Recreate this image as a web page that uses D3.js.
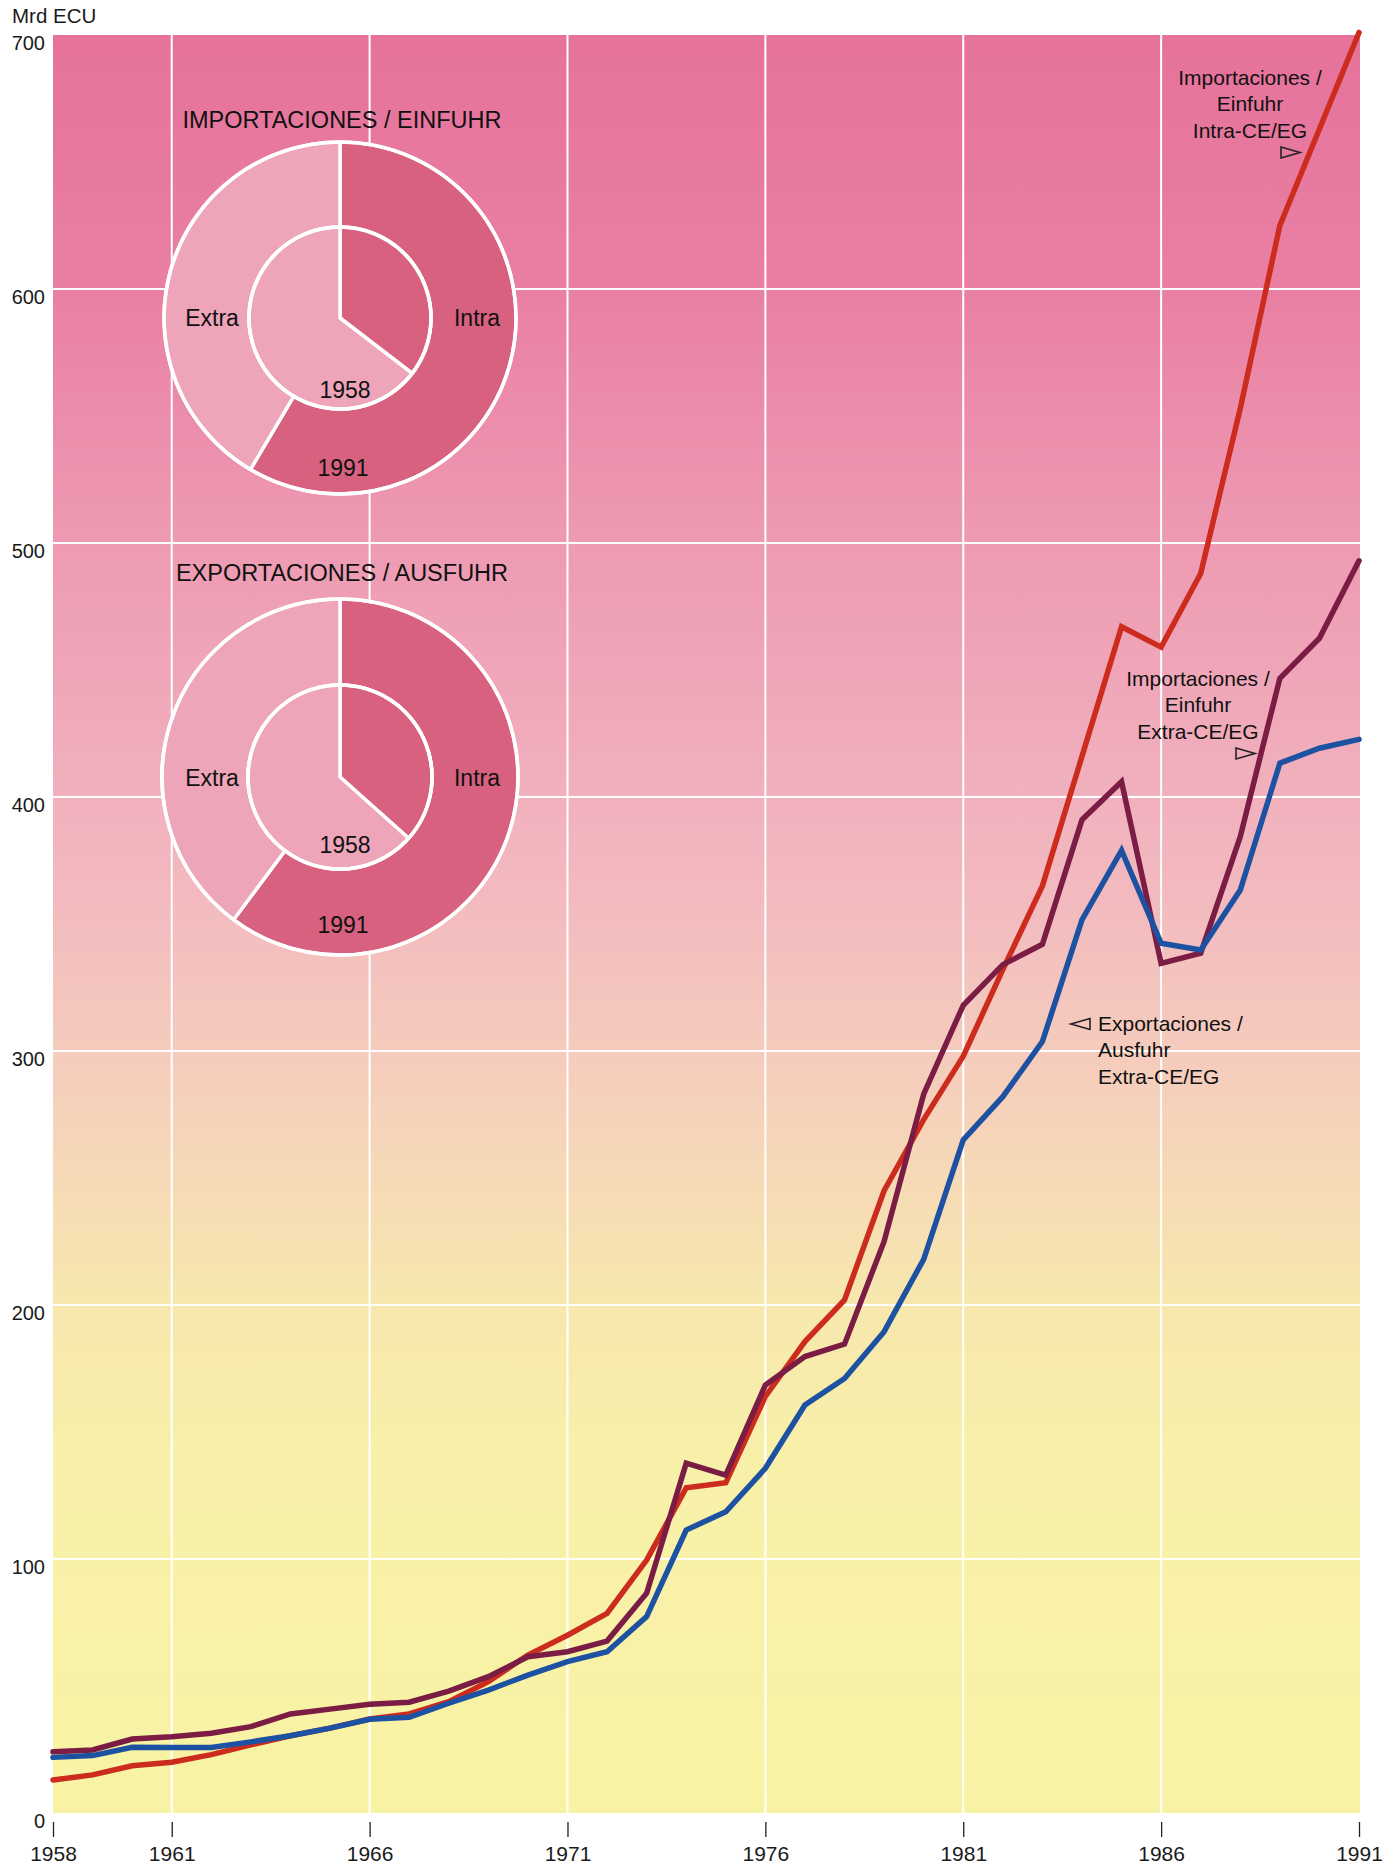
<!DOCTYPE html>
<html>
<head>
<meta charset="utf-8">
<script src="https://cdn.jsdelivr.net/npm/d3@7"></script>
<style>
  html, body { margin: 0; padding: 0; background: #ffffff; }
  svg { display: block; font-family: "Liberation Sans", Arial, Helvetica, sans-serif; }
</style>
</head>
<body>
<svg id="chart" width="1396" height="1868"></svg>
<script>
// ---------- DATA ----------
const years = d3.range(1958, 1992);
const xTickYears = [1958, 1961, 1966, 1971, 1976, 1981, 1986, 1991];
const xGridYears = [1961, 1966, 1971, 1976, 1981, 1986];
const yTicks = [0, 100, 200, 300, 400, 500, 600, 700];
const yGrid = [100, 200, 300, 400, 500, 600];

// Importaciones / Einfuhr Intra-CE/EG (Mrd ECU)
const importsIntra = [13, 15, 18.6, 20, 23, 26.8, 30.4, 33.4, 37, 39, 43.8, 51.7, 62.2, 70, 78.6, 99.6,
  128, 130, 164, 185.6, 202, 245, 273, 298, 332, 365, 416, 467, 459, 488, 553, 625, 663, 701];
// Importaciones / Einfuhr Extra-CE/EG
const importsExtra = [24.1, 24.8, 29.1, 30, 31.4, 34, 39, 40.9, 42.8, 43.6, 48, 53.7, 61.5, 63.5, 67.7, 86.5,
  137.7, 133, 168.5, 179.7, 184.6, 225, 283, 318, 334, 342, 391, 406, 334.5, 338.5, 384.4, 446.7, 462.5, 493];
// Exportaciones / Ausfuhr Extra-CE/EG
const exportsExtra = [21.9, 22.6, 25.9, 25.8, 25.8, 28, 30.4, 33.4, 36.9, 37.7, 43.2, 48.4, 54.3, 59.6, 63.5, 77.3,
  111.4, 118.6, 135.7, 160.6, 171.1, 189.5, 218, 265, 282, 303.7, 351.6, 379, 342.4, 339.8, 363.4, 413.3, 419.2, 422.7];

// Pie shares (%) : [Intra, Extra]
const pieCategories = ["Intra", "Extra"];
const imp1958 = [35.4, 64.6];
const imp1991 = [58.5, 41.5];
const exp1958 = [36.6, 63.4];
const exp1991 = [60.2, 39.8];

const pieTitles = ["IMPORTACIONES / EINFUHR", "EXPORTACIONES / AUSFUHR"];
const yAxisTitle = "Mrd ECU";

// ---------- LAYOUT ----------
const svg = d3.select("#chart");
const pLeft = 53, pRight = 1359, pTop = 35, pBottom = 1813;

const x = d3.scaleLinear().domain([1958, 1991]).range([pLeft, pRight]);
const y = d3.scaleLinear().domain([0, 700]).range([pBottom, pTop]);

// background gradient
const defs = svg.append("defs");
const grad = defs.append("linearGradient").attr("id", "bg")
  .attr("x1", 0).attr("y1", 0).attr("x2", 0).attr("y2", 1);
[
  [0.00, "#e6729b"],
  [0.14, "#e97fa3"],
  [0.29, "#ee9bb3"],
  [0.43, "#f1b1bd"],
  [0.50, "#f3bdbf"],
  [0.57, "#f5cbbd"],
  [0.64, "#f6d9b7"],
  [0.71, "#f7e7ae"],
  [0.80, "#f8f0a9"],
  [1.00, "#f8f3a4"]
].forEach(([o, c]) => grad.append("stop").attr("offset", o).attr("stop-color", c));

svg.append("rect")
  .attr("x", pLeft).attr("y", pTop)
  .attr("width", pRight + 1 - pLeft).attr("height", pBottom - pTop)
  .attr("fill", "url(#bg)");

// grid
const grid = svg.append("g").attr("stroke", "#ffffff").attr("stroke-width", 2);
grid.selectAll("line.v").data(xGridYears).join("line")
  .attr("x1", d => x(d)).attr("x2", d => x(d))
  .attr("y1", pTop).attr("y2", pBottom);
grid.selectAll("line.h").data(yGrid).join("line")
  .attr("x1", pLeft).attr("x2", pRight + 1)
  .attr("y1", d => y(d)).attr("y2", d => y(d));

// axes
const xAxis = d3.axisBottom(x).tickValues(xTickYears).tickFormat(d3.format("d"))
  .tickSize(15).tickPadding(9);
const gx = svg.append("g").attr("transform", `translate(0,${pBottom + 9})`).call(xAxis);
gx.select(".domain").remove();
gx.selectAll(".tick line").attr("stroke", "#222").attr("stroke-width", 1.3);
gx.selectAll(".tick text").attr("fill", "#1a1a1a").style("font-size", "21px")
  .style("font-family", "'Liberation Sans', Arial, sans-serif");

const yAxis = d3.axisLeft(y).tickValues(yTicks).tickSize(0).tickPadding(8);
const gy = svg.append("g").attr("transform", `translate(${pLeft},0)`).call(yAxis);
gy.select(".domain").remove();
gy.selectAll(".tick text").attr("fill", "#1a1a1a").style("font-size", "20px").attr("dy", "0.74em")
  .style("font-family", "'Liberation Sans', Arial, sans-serif");

svg.append("text").attr("x", 12).attr("y", 23).attr("fill", "#1a1a1a")
  .style("font-size", "20.5px").text(yAxisTitle);

// ---------- PIES ----------
const intraColor = "#d7617e";
const extraColor = "#eea4b9";
const pieGen = d3.pie().sort(null).value(d => d);

function donut(cx, cy, rOut, rIn, inner, outer, title, titleY, labelsY) {
  const g = svg.append("g").attr("transform", `translate(${cx},${cy})`);
  const outerArc = d3.arc().innerRadius(rIn).outerRadius(rOut);
  const innerArc = d3.arc().innerRadius(0).outerRadius(rIn);
  g.selectAll("path.o").data(pieGen(outer)).join("path")
    .attr("d", outerArc)
    .attr("fill", (d, i) => i === 0 ? intraColor : extraColor)
    .attr("stroke", "#fff").attr("stroke-width", 3.5).attr("stroke-linejoin", "round");
  g.selectAll("path.i").data(pieGen(inner)).join("path")
    .attr("d", innerArc)
    .attr("fill", (d, i) => i === 0 ? intraColor : extraColor)
    .attr("stroke", "#fff").attr("stroke-width", 3.5).attr("stroke-linejoin", "round");
  g.append("circle").attr("r", rOut).attr("fill", "none").attr("stroke", "#fff").attr("stroke-width", 3.5);
  g.append("circle").attr("r", rIn).attr("fill", "none").attr("stroke", "#fff").attr("stroke-width", 3.5);

  svg.append("text").attr("x", cx + 2).attr("y", titleY).attr("text-anchor", "middle")
    .attr("fill", "#111").style("font-size", "23.5px").text(title);

  const lab = [
    [pieCategories[1], cx - 128, labelsY[0]],
    [pieCategories[0], cx + 137, labelsY[0]],
    ["1958", cx + 5, labelsY[1]],
    ["1991", cx + 3, labelsY[2]]
  ];
  svg.selectAll(null).data(lab).join("text")
    .attr("x", d => d[1]).attr("y", d => d[2]).attr("text-anchor", "middle")
    .attr("fill", "#111").style("font-size", "23px").text(d => d[0]);
}

donut(340, 318, 176, 91, imp1958, imp1991, pieTitles[0], 128, [326, 398, 476]);
donut(340, 777, 178, 92, exp1958, exp1991, pieTitles[1], 581, [786, 853, 933]);

// ---------- LINES ----------
const line = d3.line().x((d, i) => x(years[i])).y(d => y(d));
const series = [
  { data: importsIntra, color: "#cc2c1e" },
  { data: importsExtra, color: "#7a1c44" },
  { data: exportsExtra, color: "#1d52a3" }
];
svg.selectAll("path.series").data(series).join("path")
  .attr("class", "series")
  .attr("d", d => line(d.data))
  .attr("fill", "none")
  .attr("stroke", d => d.color)
  .attr("stroke-width", 5.5)
  .attr("stroke-linejoin", "miter")
  .attr("stroke-miterlimit", 3)
  .attr("stroke-linecap", "round");

// ---------- ANNOTATIONS ----------
function note(lines, ax, ay, anchor) {
  const t = svg.append("text").attr("fill", "#111").style("font-size", "21px").attr("text-anchor", anchor);
  lines.forEach((s, i) => t.append("tspan").attr("x", ax).attr("y", ay + i * 26.5).text(s));
}
note(["Importaciones /", "Einfuhr", "Intra-CE/EG"], 1250, 84.5, "middle");
note(["Importaciones /", "Einfuhr", "Extra-CE/EG"], 1198, 685.5, "middle");
note(["Exportaciones /", "Ausfuhr", "Extra-CE/EG"], 1098, 1030.5, "start");

const tri = svg.append("g").attr("fill", "none").attr("stroke", "#222").attr("stroke-width", 1.6).attr("stroke-linejoin", "miter");
tri.append("path").attr("d", "M1281,147 L1300,152.5 L1281,158 Z");
tri.append("path").attr("d", "M1236,748 L1255,753.5 L1236,759 Z");
tri.append("path").attr("d", "M1090,1018.5 L1071,1024 L1090,1029.5 Z");
</script>
</body>
</html>
